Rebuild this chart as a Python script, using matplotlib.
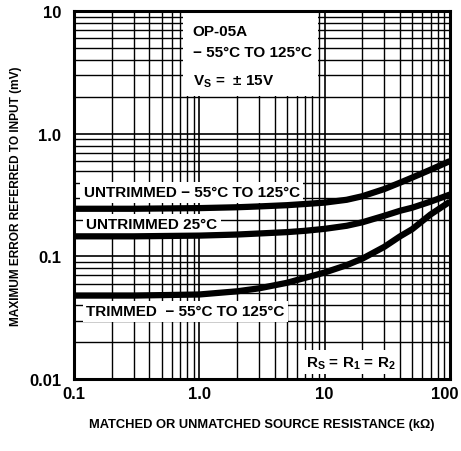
import matplotlib
matplotlib.use('Agg')
import matplotlib.pyplot as plt
from matplotlib.patches import Rectangle
from matplotlib.transforms import ScaledTranslation
from matplotlib.ticker import FixedLocator, LogLocator, NullFormatter

plt.rcParams['font.family'] = ['Liberation Sans', 'DejaVu Sans']
plt.rcParams['font.weight'] = 'bold'
plt.rcParams['mathtext.fontset'] = 'custom'
plt.rcParams['mathtext.rm'] = 'Liberation Sans:bold'

# source resistance (kOhm) and max error (mV)
resistance_k = [0.1, 0.3, 1, 2, 3, 5, 7, 10, 15, 20, 30, 40, 50, 70, 100]
untrimmed_wide = [0.245, 0.245, 0.248, 0.252, 0.256, 0.262, 0.268, 0.275, 0.29, 0.31, 0.355, 0.40, 0.44, 0.51, 0.6]
untrimmed_25 = [0.146, 0.146, 0.148, 0.151, 0.154, 0.158, 0.162, 0.168, 0.178, 0.19, 0.215, 0.236, 0.25, 0.28, 0.32]
trimmed_wide = [0.048, 0.048, 0.049, 0.052, 0.055, 0.061, 0.067, 0.074, 0.085, 0.096, 0.12, 0.146, 0.167, 0.22, 0.28]

x_ticks = [0.1, 1, 10, 100]
x_tick_labels = ['0.1', '1.0', '10', '100']
y_ticks = [0.01, 0.1, 1, 10]
y_tick_labels = ['0.01', '0.1', '1.0', '10']

fig = plt.figure(figsize=(4.61, 4.52), dpi=100)
ax = fig.add_axes([0.1605, 0.159, 0.8155, 0.814])
ax.set_xscale('log')
ax.set_yscale('log')
ax.set_xlim(0.1, 100)
ax.set_ylim(0.01, 10)

ax.xaxis.set_major_locator(FixedLocator(x_ticks))
ax.set_xticklabels(x_tick_labels)
ax.yaxis.set_major_locator(FixedLocator(y_ticks))
ax.set_yticklabels(y_tick_labels)
ax.xaxis.set_minor_locator(LogLocator(base=10, subs=range(2, 10)))
ax.yaxis.set_minor_locator(LogLocator(base=10, subs=range(2, 10)))
ax.xaxis.set_minor_formatter(NullFormatter())
ax.yaxis.set_minor_formatter(NullFormatter())
ax.tick_params(which='both', length=0, labelsize=12)
ax.tick_params(axis='x', pad=5)
ax.tick_params(axis='y', pad=9)
# the "100" sits a bit left of its gridline in the original
last = ax.get_xticklabels()[-1]
last.set_transform(last.get_transform() + ScaledTranslation(-5 / 100, 0, fig.dpi_scale_trans))

ax.grid(True, which='major', color='black', linewidth=1.2)
ax.grid(True, which='minor', color='black', linewidth=1.0)
for s in ax.spines.values():
    s.set_linewidth(2.2)

for ys in (untrimmed_wide, untrimmed_25, trimmed_wide):
    ax.plot(resistance_k, ys, color='black', linewidth=4.5, solid_capstyle='butt', zorder=4)

# white box behind the header text
ax.add_patch(Rectangle((0.29, 0.769), 0.36, 0.226, transform=ax.transAxes,
                       facecolor='white', edgecolor='none', zorder=2.5))
hdr = dict(transform=ax.transAxes, fontsize=11, va='center', ha='left', zorder=3)
ax.text(0.316, 0.946, 'OP-05A', **hdr)
ax.text(0.316, 0.889, '\u2212 55°C TO 125°C', **hdr)
ax.text(0.316, 0.81, r'V$_\mathregular{S}$ =  ± 15V', **hdr)

box = dict(facecolor='white', edgecolor='none', pad=2.5)
lbl = dict(transform=ax.transAxes, fontsize=11, va='center', ha='left', zorder=3, bbox=box)
ax.text(0.026, 0.508, 'UNTRIMMED \u2212 55°C TO 125°C', **lbl)
ax.text(0.032, 0.421, 'UNTRIMMED 25°C', **lbl)
ax.text(0.032, 0.185, 'TRIMMED  \u2212 55°C TO 125°C', **lbl)
ax.text(0.617, 0.046, r'R$_\mathregular{S}$ = R$_\mathregular{1}$ = R$_\mathregular{2}$', **lbl)

ax.set_xlabel('MATCHED OR UNMATCHED SOURCE RESISTANCE (k\u03a9)', fontsize=9.3, fontweight='bold')
ax.set_ylabel('MAXIMUM ERROR REFERRED TO INPUT (mV)', fontsize=8.6, fontweight='bold')
ax.xaxis.set_label_coords(0.5, -0.105)
ax.yaxis.set_label_coords(-0.138, 0.5)

fig.savefig('out.png', dpi=100)
